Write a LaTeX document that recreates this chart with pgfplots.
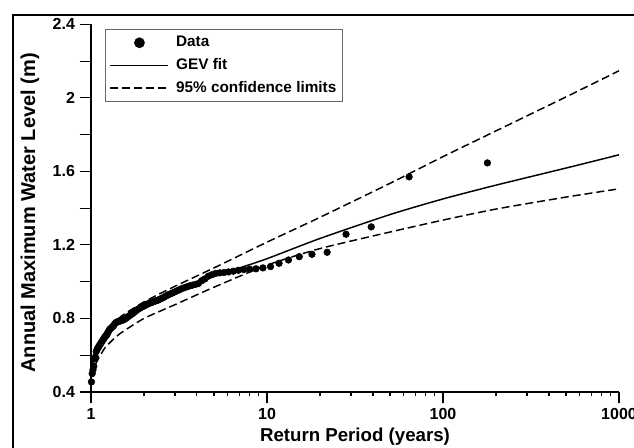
\documentclass[border=0pt]{standalone}
\usepackage{fontspec}
\setmainfont{Liberation Sans}
\usepackage{pgfplots}
\pgfplotsset{compat=1.18}
\begin{document}
\begin{tikzpicture}
\draw[line width=1.5pt] (9.75pt,-345pt) -- (9.75pt,-11.25pt) -- (490pt,-11.25pt);
\begin{axis}[
  at={(68.25pt,-294pt)}, anchor=south west,
  scale only axis, width=396pt, height=275.8pt,
  xmode=log, xmin=1, xmax=1000, ymin=0.4, ymax=2.4,
  axis x line*=bottom, axis y line*=left, axis line style={-, line width=0.8pt},
  tick align=outside, major tick length=8.5pt, minor tick length=3pt,
  tick style={black, line width=0.8pt},
  xtick={1,10,100,1000}, xticklabels={1,10,100,1000},
  ytick={0.4,0.6,...,2.41}, yticklabels={0.4,,0.8,,1.2,,1.6,,2,,2.4},
  ticklabel style={font=\bfseries\fontsize{12}{14}\selectfont},
  xlabel={Return Period (years)}, ylabel={Annual Maximum Water Level (m)},
  xlabel style={font=\bfseries\fontsize{14}{16}\selectfont, at={(axis description cs:0.5,-0.1224)}, anchor=center},
  ylabel style={font=\bfseries\fontsize{15}{17}\selectfont, at={(axis description cs:-0.1155,0.487)}, anchor=center},
  legend style={at={(axis description cs:0.0265,0.987)}, anchor=north west,
    draw=black!60, line width=0.6pt, font=\bfseries\fontsize{11.5}{13}\selectfont,
    row sep=3pt, inner xsep=3pt, inner ysep=3pt,
    nodes={inner sep=1.5pt, text height=8.5pt, text depth=2.5pt}},
  legend cell align=left,
  clip=false,
]
\addplot[only marks, mark=*, mark size=2.5pt, black,
  legend image code/.code={\fill[black] (22pt,0pt) circle (3.7pt); \path[draw=none,fill=none] (0pt,0pt) rectangle (48pt,0.1pt);}] coordinates {
(178.79,1.646)(64.18,1.57)(39.11,1.298)(28.12,1.258)(21.96,1.16)(18.01,1.149)
(15.26,1.136)(13.24,1.118)(11.70,1.10)(10.47,1.082)(9.481,1.075)(8.661,1.07)
(7.971,1.068)(7.383,1.066)(6.876,1.062)(6.434,1.057)(6.046,1.053)(5.702,1.05)
(5.394,1.048)(5.119,1.045)(4.870,1.038)(4.644,1.03)(4.438,1.015)(4.250,1.005)
(4.077,0.99)(3.917,0.985)(3.770,0.981)(3.633,0.977)(3.506,0.972)(3.387,0.967)
(3.276,0.962)(3.172,0.956)(3.075,0.95)(2.983,0.944)(2.897,0.938)(2.816,0.933)
(2.738,0.928)(2.666,0.922)(2.596,0.915)(2.531,0.91)(2.468,0.905)(2.409,0.90)
(2.352,0.897)(2.298,0.893)(2.247,0.89)(2.198,0.886)(2.150,0.883)(2.105,0.88)
(2.062,0.875)(2.020,0.87)(1.980,0.866)(1.942,0.862)(1.905,0.857)(1.869,0.853)
(1.835,0.848)(1.802,0.842)(1.770,0.836)(1.739,0.83)(1.710,0.825)(1.681,0.82)
(1.653,0.815)(1.626,0.81)(1.600,0.805)(1.575,0.80)(1.551,0.796)(1.527,0.793)
(1.504,0.79)(1.482,0.788)(1.460,0.786)(1.439,0.784)(1.419,0.782)(1.399,0.78)
(1.380,0.775)(1.361,0.77)(1.343,0.76)(1.325,0.755)(1.308,0.75)(1.291,0.745)
(1.274,0.74)(1.258,0.73)(1.243,0.72)(1.228,0.71)(1.213,0.705)(1.198,0.70)
(1.184,0.69)(1.170,0.685)(1.157,0.675)(1.143,0.67)(1.131,0.66)(1.118,0.655)
(1.106,0.645)(1.093,0.64)(1.082,0.63)(1.070,0.62)(1.059,0.59)(1.048,0.58)
(1.037,0.54)(1.026,0.52)(1.016,0.50)(1.0056,0.455)
};
\addlegendentry{Data}
\addplot[black, line width=1.1pt, smooth, tension=0.4,
  legend image code/.code={\draw[black, line width=1.1pt] (0pt,0pt) -- (43.5pt,0pt); \path[draw=none,fill=none] (0pt,0pt) rectangle (48pt,0.1pt);}] coordinates {
(1.02,0.55)(1.05,0.60)(1.1,0.645)(1.2,0.70)(1.35,0.75)(1.5,0.785)(2,0.86)(3,0.945)
(5,1.03)(7,1.075)(10,1.125)(20,1.235)(50,1.365)(100,1.45)(200,1.525)(500,1.618)(1000,1.69)
};
\addlegendentry{GEV fit}
\addplot[black, line width=1.1pt, dash pattern=on 6pt off 3pt, smooth, tension=0.4,
  legend image code/.code={\draw[black, line width=1.1pt, dash pattern=on 6pt off 3pt] (0pt,0pt) -- (43.5pt,0pt); \path[draw=none,fill=none] (0pt,0pt) rectangle (48pt,0.1pt);}] coordinates {
(1.04,0.58)(1.1,0.66)(1.2,0.725)(1.35,0.775)(1.5,0.815)(2,0.89)(3,0.975)(5,1.075)
(10,1.215)(20,1.35)(50,1.535)(100,1.68)(200,1.82)(500,2.005)(1000,2.147)
};
\addlegendentry{95\% confidence limits}
\addplot[black, line width=1.1pt, dash pattern=on 6pt off 3pt, smooth, tension=0.4, forget plot] coordinates {
(1.06,0.55)(1.1,0.58)(1.2,0.64)(1.35,0.69)(1.5,0.725)(2,0.80)(3,0.875)(5,0.97)
(10,1.09)(20,1.18)(50,1.27)(100,1.335)(200,1.395)(500,1.46)(1000,1.505)
};
\end{axis}
\pgfresetboundingbox
\useasboundingbox (0pt,0pt) rectangle (475.5pt,-336pt);
\end{tikzpicture}
\end{document}
